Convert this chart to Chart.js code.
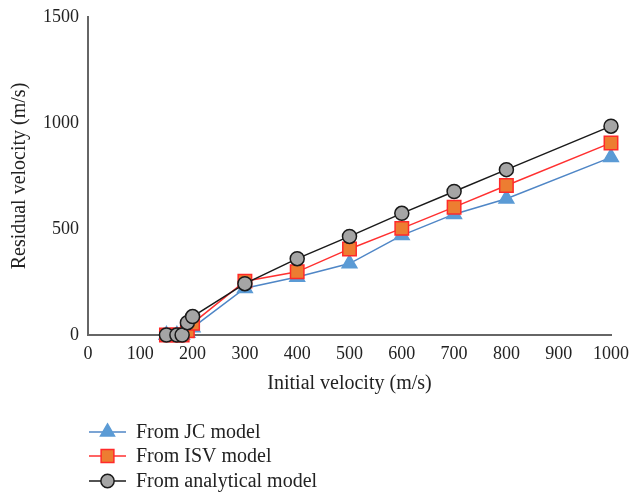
<!DOCTYPE html>
<html>
<head>
<meta charset="utf-8">
<script src="https://cdn.jsdelivr.net/npm/chart.js@4/dist/chart.umd.min.js"></script>
<style>
html,body{margin:0;padding:0;background:#fff;}
#wrap{position:relative;width:632px;height:496px;}
</style>
</head>
<body>
<div id="wrap"><canvas id="c" width="632" height="496"></canvas></div>
<script>
// Data
const seriesNames = ["From JC model", "From ISV model", "From analytical model"];
const jcX = [150, 170, 180, 190, 200, 300, 400, 500, 600, 700, 800, 1000];
const jcY = [0, 0, 0, 10, 35, 221, 274, 337, 470, 570, 643, 838];
const isvX = [150, 170, 180, 190, 200, 300, 400, 500, 600, 700, 800, 1000];
const isvY = [0, 0, 0, 20, 55, 254, 298, 406, 503, 603, 705, 906];
const anaX = [150, 170, 180, 190, 200, 300, 400, 500, 600, 700, 800, 1000];
const anaY = [0, 0, 0, 58, 87, 242, 360, 465, 574, 677, 780, 985];
const xTicks = [0, 100, 200, 300, 400, 500, 600, 700, 800, 900, 1000];
const yTicks = [0, 500, 1000, 1500];
const xTitle = "Initial velocity (m/s)";
const yTitle = "Residual velocity (m/s)";

const FONT = "'Liberation Serif', 'DejaVu Serif', serif";
const toPts = (xs, ys) => xs.map((x, i) => ({x: x, y: ys[i]}));

const styles = [
  {line: '#4f86c6', fill: '#5b9bd5', border: '#5b9bd5', shape: 'triangle', r: 8.5},
  {line: '#ff3030', fill: '#ed7d31', border: '#ff2a2a', shape: 'rect', r: 9.5},
  {line: '#1a1a1a', fill: '#a5a5a5', border: '#1a1a1a', shape: 'circle', r: 7}
];

const datasets = [toPts(jcX, jcY), toPts(isvX, isvY), toPts(anaX, anaY)].map((d, i) => ({
  label: seriesNames[i],
  data: d,
  showLine: true,
  clip: false,
  borderColor: styles[i].line,
  borderWidth: 1.5,
  pointStyle: styles[i].shape,
  pointRadius: styles[i].r,
  pointBackgroundColor: styles[i].fill,
  pointBorderColor: styles[i].border,
  pointBorderWidth: 1.5,
  order: 2 - i
}));

const legendPlugin = {
  id: 'customLegend',
  afterDraw(chart) {
    const ctx = chart.ctx;
    const rows = [432, 456, 481];
    ctx.save();
    rows.forEach((y, i) => {
      const s = styles[i];
      ctx.strokeStyle = s.line;
      ctx.lineWidth = 1.5;
      ctx.beginPath();
      ctx.moveTo(89, y);
      ctx.lineTo(126, y);
      ctx.stroke();
      ctx.fillStyle = s.fill;
      ctx.strokeStyle = s.border;
      ctx.lineWidth = 1.5;
      Chart.helpers.drawPoint(ctx, {pointStyle: s.shape, radius: s.r * 0.95, borderWidth: 1.5}, 107.5, y);
      ctx.fillStyle = '#222';
      ctx.font = "20px " + FONT;
      ctx.textBaseline = 'middle';
      ctx.textAlign = 'left';
      ctx.fillText(seriesNames[i], 136, y + 1);
    });
    ctx.restore();
  }
};

new Chart(document.getElementById('c'), {
  type: 'scatter',
  data: {datasets: datasets},
  plugins: [legendPlugin],
  options: {
    responsive: false,
    animation: false,
    devicePixelRatio: 1,
    layout: {padding: {left: 0, top: 17, right: 21, bottom: 100}},
    plugins: {legend: {display: false}, tooltip: {enabled: false}},
    scales: {
      x: {
        type: 'linear', min: 0, max: 1000,
        afterBuildTicks: (s) => { s.ticks = xTicks.map(v => ({value: v})); },
        afterFit: (s) => { s.height = 61; s.paddingRight = 0; s.paddingLeft = 0; },
        grid: {display: false, drawTicks: false},
        border: {display: true, color: '#666', width: 2},
        ticks: {color: '#222', font: {family: FONT, size: 18}, padding: 8, maxRotation: 0, autoSkip: false,
                callback: (v) => String(v)},
        title: {display: true, text: xTitle, color: '#222', font: {family: FONT, size: 20}, padding: {top: 0, bottom: 0}}
      },
      y: {
        type: 'linear', min: 0, max: 1500,
        afterBuildTicks: (s) => { s.ticks = yTicks.map(v => ({value: v})); },
        afterFit: (s) => { s.width = 88; s.paddingTop = 0; s.paddingBottom = 0; },
        grid: {display: false, drawTicks: false},
        border: {display: true, color: '#666', width: 2},
        ticks: {color: '#222', font: {family: FONT, size: 18}, padding: 9, callback: (v) => String(v)},
        title: {display: true, text: yTitle, color: '#222', font: {family: FONT, size: 20}, padding: {top: 8, bottom: 8}}
      }
    }
  }
});
</script>
</body>
</html>
